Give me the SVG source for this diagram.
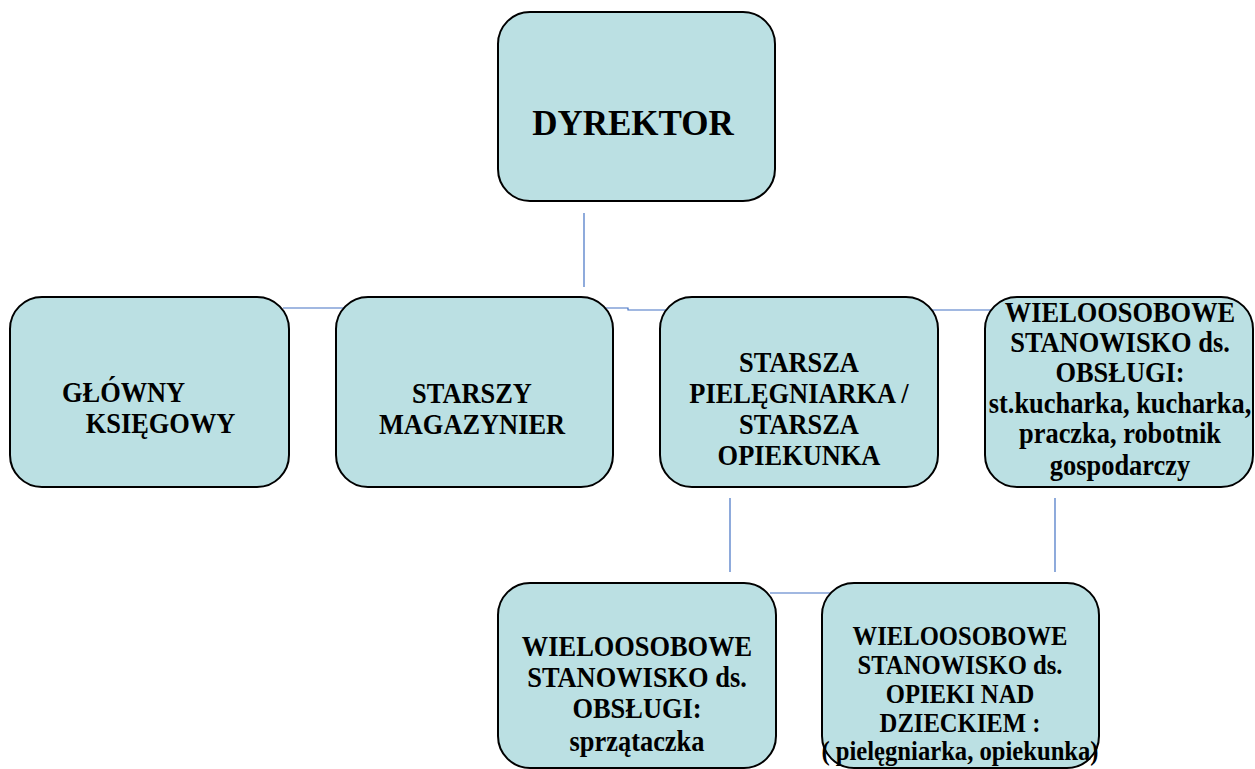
<svg xmlns="http://www.w3.org/2000/svg" width="1255" height="769" viewBox="0 0 1255 769">
<style>
.box{fill:#bbe0e3;stroke:#000;stroke-width:2}
.t{font-family:"Liberation Serif","Times New Roman",serif;font-weight:bold;fill:#000;text-anchor:middle}
.s28{font-size:30px}
.s26{font-size:28px}
.conn{fill:none;stroke:#4472c4;stroke-width:1.2}
</style>
<rect width="1255" height="769" fill="#fff"/>
<g id="connectors" class="conn">
<path d="M584,213 V287"/>
<path d="M283,308 H628 V310 H992"/>
<path d="M730,498 V572"/>
<path d="M1055,498 V572"/>
<path d="M770,593 H830"/>
</g>
<g id="dyrektor">
<rect class="box" x="498" y="12" width="277" height="189" rx="32"/>
<text class="t" x="633" y="135" font-size="35">DYREKTOR</text>
</g>
<g id="glowny">
<rect class="box" x="10" y="297" width="279" height="190" rx="32"/>
<text class="t s28" transform="translate(62 0) scale(0.88 1)" style="text-anchor:start"><tspan x="0" y="402">GŁÓWNY</tspan><tspan x="27" y="433">KSIĘGOWY</tspan></text>
</g>
<g id="magazynier">
<rect class="box" x="336" y="297" width="277" height="190" rx="32"/>
<text class="t s28" transform="translate(472 0) scale(0.88 1)"><tspan x="0" y="403">STARSZY</tspan><tspan x="0" y="434">MAGAZYNIER</tspan></text>
</g>
<g id="pielegniarka">
<rect class="box" x="660" y="297" width="278" height="190" rx="32"/>
<text class="t s28" transform="translate(799 0) scale(0.88 1)"><tspan x="0" y="372">STARSZA</tspan><tspan x="0" y="403">PIELĘGNIARKA /</tspan><tspan x="0" y="434">STARSZA</tspan><tspan x="0" y="465">OPIEKUNKA</tspan></text>
</g>
<g id="obsluga">
<rect class="box" x="985" y="297" width="268" height="190" rx="32"/>
<text class="t s28" transform="translate(1120 0) scale(0.88 1)"><tspan x="0" y="322">WIELOOSOBOWE</tspan><tspan x="0" y="352">STANOWISKO ds.</tspan><tspan x="0" y="382">OBSŁUGI:</tspan><tspan x="0" y="413">st.kucharka, kucharka,</tspan><tspan x="0" y="443">praczka, robotnik</tspan><tspan x="0" y="475">gospodarczy</tspan></text>
</g>
<g id="sprzataczka">
<rect class="box" x="498" y="583" width="278" height="185" rx="32"/>
<text class="t s28" transform="translate(637 0) scale(0.88 1)"><tspan x="0" y="656">WIELOOSOBOWE</tspan><tspan x="0" y="687">STANOWISKO ds.</tspan><tspan x="0" y="718">OBSŁUGI:</tspan><tspan x="0" y="751">sprzątaczka</tspan></text>
</g>
<g id="opieka">
<rect class="box" x="822" y="583" width="277" height="185" rx="32"/>
<text class="t s26" transform="translate(960 0) scale(0.88 1)"><tspan x="0" y="645">WIELOOSOBOWE</tspan><tspan x="0" y="674">STANOWISKO ds.</tspan><tspan x="0" y="703">OPIEKI NAD</tspan><tspan x="0" y="732">DZIECKIEM :</tspan><tspan x="0" y="760">( pielęgniarka, opiekunka)</tspan></text>
</g>
</svg>
